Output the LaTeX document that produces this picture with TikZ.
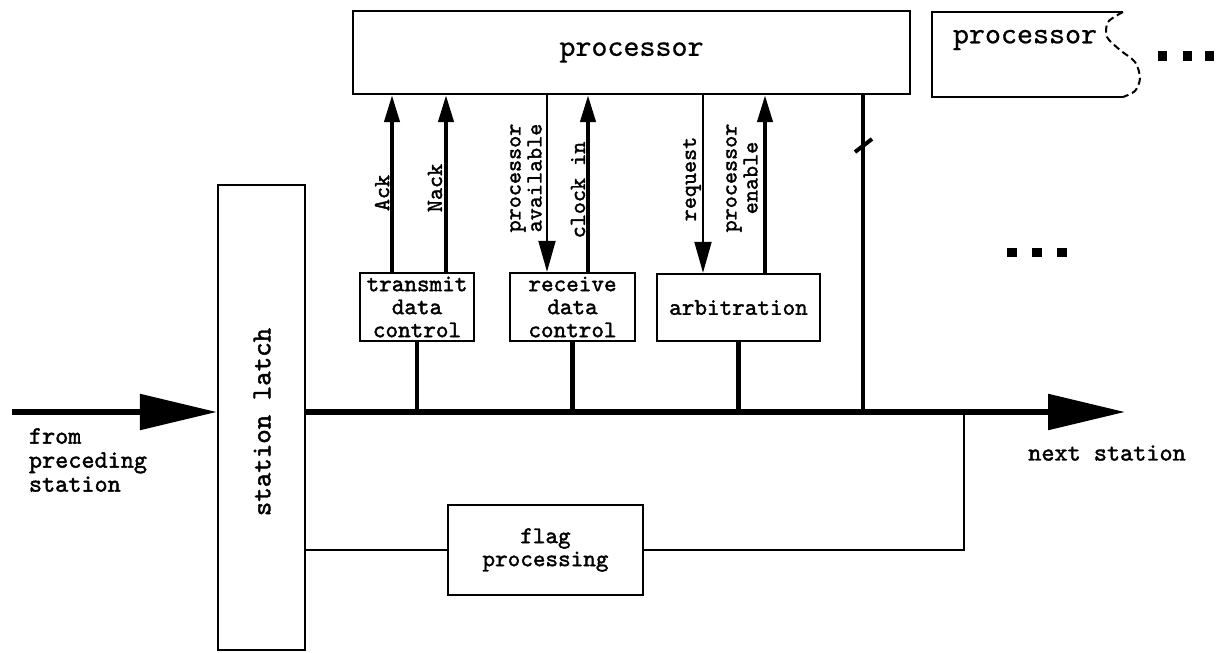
\documentclass[tikz,border=0pt]{standalone}
\usepackage{fontspec}
\newfontfamily\plainfont[FakeBold=0.6]{lmmono10-regular.otf}
\newfontfamily\heavyfont[FakeBold=1.6]{lmmono10-regular.otf}
\usetikzlibrary{arrows.meta,positioning}
\tikzset{
  unit-box/.style={draw=black, line width=2.4pt, inner sep=0pt, align=center,
    font=\heavyfont\fontsize{24}{23}\selectfont},
  proc-box/.style={draw=black, line width=2.2pt, inner sep=0pt,
    font=\plainfont\fontsize{30.5}{32}\selectfont},
  sig-label/.style={rotate=90, inner sep=0pt, align=center,
    font=\heavyfont\fontsize{23}{21}\selectfont},
  side-label/.style={inner sep=0pt, align=left,
    font=\heavyfont\fontsize{25}{24}\selectfont},
  sig-up/.style={line width=4.2pt, -{Triangle[length=27pt, width=15pt]}},
  sig-down/.style={line width=2pt, -{Triangle[length=31pt, width=17pt]}},
  bus-line/.style={line width=5.5pt, -{Triangle[length=77pt, width=35pt]}},
  tap-line/.style={line width=4.2pt},
  loop-line/.style={line width=2pt}
}

\begin{document}
\begin{tikzpicture}[x=1pt, y=-1pt]
  \useasboundingbox (0,0) rectangle (1216,653);
  % processors
  \node[proc-box, minimum width=557pt, minimum height=83pt] (proc) at (631.5,52.5) {processor};
  \node[font=\plainfont\fontsize{30.5}{32}\selectfont, inner sep=0pt] (proc2) at (1025,40) {processor};
  \draw[line width=2.2pt] (1123,12) -- (932,12) -- (932,97) -- (1123,97);
  \draw[line width=2pt, dash pattern=on 7pt off 4pt] plot[smooth] coordinates
    {(1123,12) (1108,22) (1107,37) (1120,50) (1135,62) (1140,78) (1135,91) (1123,97)};
  \foreach \x in {1162,1187,1209} \fill (\x-4.5,51) rectangle (\x+4.5,61);
  \foreach \x in {1012,1037,1062} \fill (\x-5,248) rectangle (\x+5,257);
  % station latch
  \node[unit-box, minimum width=87pt, minimum height=465pt] (latch) at (261.5,417.5) {};
  \node[sig-label, font=\heavyfont\fontsize{27.6}{29}\selectfont] (latch-lbl) at (262,422) {station latch};
  % control boxes
  \node[unit-box, minimum width=114pt, minimum height=68pt] (transmit) at (417,307) {transmit\\data\\control};
  \node[unit-box, minimum width=125pt, minimum height=68pt] (receive) at (572.5,307) {receive\\data\\control};
  \node[unit-box, minimum width=163pt, minimum height=67pt] (arbit) at (738.5,307.5) {arbitration};
  \node[unit-box, minimum width=195pt, minimum height=90pt] (flag) at (545.5,550) {flag\\processing};
  % bus
  \coordinate (bus-in) at (12,412);
  \coordinate (bus-out) at (1125,412);
  \coordinate (tap) at (964,412);
  \coordinate (ack-x) at (392,0);
  \coordinate (nack-x) at (446,0);
  \coordinate (avail-x) at (547,0);
  \coordinate (clk-x) at (588,0);
  \coordinate (req-x) at (703,0);
  \coordinate (en-x) at (765,0);
  \coordinate (data-x) at (863,0);
  \draw[bus-line] (bus-in) -- (bus-in -| latch.west);
  \draw[bus-line] (bus-in -| latch.east) -- (bus-out);
  \draw[tap-line] (transmit.south) -- (transmit.south |- bus-out);
  \draw[tap-line] (receive.south) -- (receive.south |- bus-out);
  \draw[tap-line] (arbit.south) -- (arbit.south |- bus-out);
  \draw[tap-line] (proc.south -| data-x) -- (data-x |- bus-out);
  \draw[line width=4pt] (855,152) -- (872,139);
  % signals
  \draw[sig-up] (transmit.north -| ack-x) -- (proc.south -| ack-x);
  \draw[sig-up] (transmit.north -| nack-x) -- (proc.south -| nack-x);
  \draw[sig-down] (proc.south -| avail-x) -- (receive.north -| avail-x);
  \draw[sig-up] (receive.north -| clk-x) -- (proc.south -| clk-x);
  \draw[sig-down] (proc.south -| req-x) -- (arbit.north -| req-x);
  \draw[sig-up] (arbit.north -| en-x) -- (proc.south -| en-x);
  \node[sig-label] (ack-lbl) at (382,193) {Ack};
  \node[sig-label] (nack-lbl) at (435,188) {Nack};
  \node[sig-label] (avail-lbl) at (526,178) {processor\\available};
  \node[sig-label] (clk-lbl) at (578,190) {clock in};
  \node[sig-label] (req-lbl) at (692,179) {request};
  \node[sig-label] (en-lbl) at (742,178) {processor\\enable};
  % flag loop
  \draw[loop-line] (tap) |- (flag.east);
  \draw[loop-line] (flag.west) -- (flag.west -| latch.east);
  % side labels
  \node[side-label] (from-lbl) at (88,460) {from\\preceding\\station};
  \node[side-label] (next-lbl) at (1107,453) {next station};
\end{tikzpicture}
\end{document}
